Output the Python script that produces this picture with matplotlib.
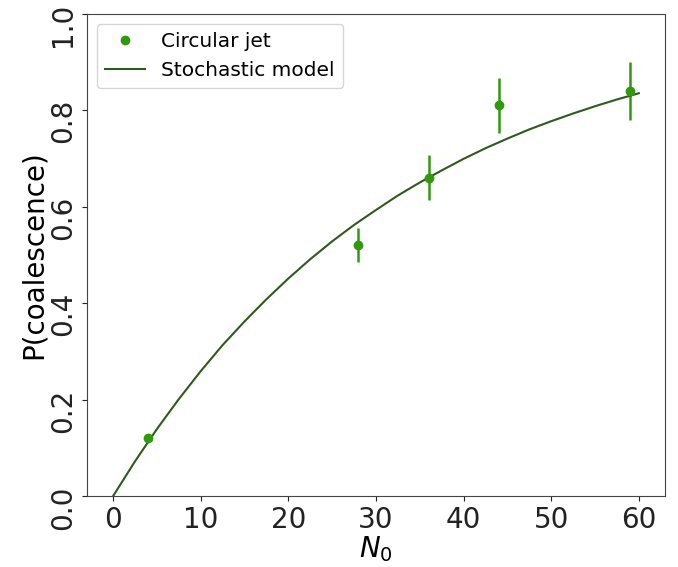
import matplotlib
matplotlib.use("Agg")
import matplotlib.pyplot as plt
from matplotlib.lines import Line2D

# Measured data (circular jet)
n0 = [4, 28, 36, 44, 59]
p_coal = [0.12, 0.52, 0.66, 0.81, 0.84]
p_err = [0.008, 0.035, 0.047, 0.057, 0.06]

# Stochastic model curve
model_n = [0, 2.5, 5, 7.5, 10, 12.5, 15, 17.5, 20, 22.5, 25, 27.5, 30,
           32.5, 35, 37.5, 40, 42.5, 45, 47.5, 50, 52.5, 55, 57.5, 60]
model_p = [0.0, 0.072, 0.139, 0.201, 0.259, 0.313, 0.362, 0.408, 0.451,
           0.491, 0.528, 0.562, 0.593, 0.623, 0.650, 0.675, 0.699, 0.721,
           0.741, 0.760, 0.777, 0.793, 0.808, 0.822, 0.835]

point_color = '#2e9a0c'
line_color = '#2f5a1d'

fig = plt.figure(figsize=(6.78, 5.67), dpi=100)
ax = fig.add_axes([0.128, 0.125, 0.853, 0.851])

ax.errorbar(n0, p_coal, yerr=p_err, fmt='o', color=point_color, ms=6,
            elinewidth=1.8)
ax.plot(model_n, model_p, color=line_color, lw=1.5)

ax.set_ylim(0, 1.0)
ax.set_xticks([0, 10, 20, 30, 40, 50, 60])
ax.set_yticks([0.0, 0.2, 0.4, 0.6, 0.8, 1.0])
ax.tick_params(axis='both', labelsize=20, colors='#222222')
plt.yticks(rotation=90)
for s in ax.spines.values():
    s.set_color('#444444')
ax.set_xlabel(r'$N_0$', fontsize=20, labelpad=0)
ax.set_ylabel('P(coalescence)', fontsize=20, labelpad=1)

handles = [Line2D([], [], ls='none', marker='o', color=point_color, ms=6),
           Line2D([], [], color=line_color, lw=1.5)]
ax.legend(handles, ['Circular jet', 'Stochastic model'], loc='upper left',
          fontsize=14.5)

fig.savefig('out.png', dpi=100)
